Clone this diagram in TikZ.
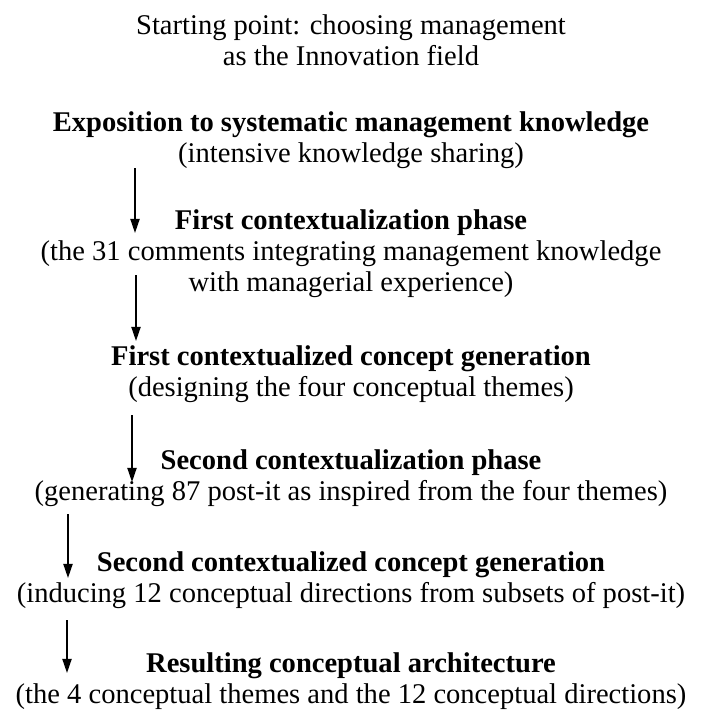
\documentclass[tikz,border=0pt]{standalone}
\usepackage{fontspec}
\setmainfont{Liberation Serif}
\usetikzlibrary{arrows.meta}

\tikzset{
  step text/.style={align=center, inner sep=0pt, font=\fontsize{20.3}{22}\selectfont},
  flow/.style={-{Triangle[length=10pt,width=6.5pt]}, line width=1.1pt}
}

\begin{document}
\begin{tikzpicture}[x=0.025cm, y=-0.025cm]
        \useasboundingbox (0,0) rectangle (703,713);

        \node[step text] (start) at (351,40.5)  {Starting point: choosing management\\as the Innovation field};
        \node[step text] (expo)  at (351,140.5) {\textbf{Exposition to systematic management knowledge}\\(intensive knowledge sharing)};
        \node[step text] (ctx1)  at (351,254)   {\textbf{First contextualization phase}\\(the 31 comments integrating management knowledge\\with managerial experience)};
        \node[step text] (gen1)  at (351,374.5) {\textbf{First contextualized concept generation}\\(designing the four conceptual themes)};
        \node[step text] (ctx2)  at (351,478.5) {\textbf{Second contextualization phase}\\(generating 87 post-it as inspired from the four themes)};
        \node[step text] (gen2)  at (351,580.5) {\textbf{Second contextualized concept generation}\\(inducing 12 conceptual directions from subsets of post-it)};
        \node[step text] (arch)  at (351,681.5) {\textbf{Resulting conceptual architecture}\\(the 4 conceptual themes and the 12 conceptual directions)};

        % arrow ends sit left of the text
        \coordinate (a1) at (135,168); \coordinate (b1) at (135,233);
        \coordinate (a2) at (136,275); \coordinate (b2) at (136,341);
        \coordinate (a3) at (132,415); \coordinate (b3) at (132,482);
        \coordinate (a4) at (68,514);  \coordinate (b4) at (68,578);
        \coordinate (a5) at (67,620);  \coordinate (b5) at (67,673);

        \foreach \i in {1,...,5}
          \draw[flow] (a\i) -- (b\i);
      \end{tikzpicture}
\end{document}
